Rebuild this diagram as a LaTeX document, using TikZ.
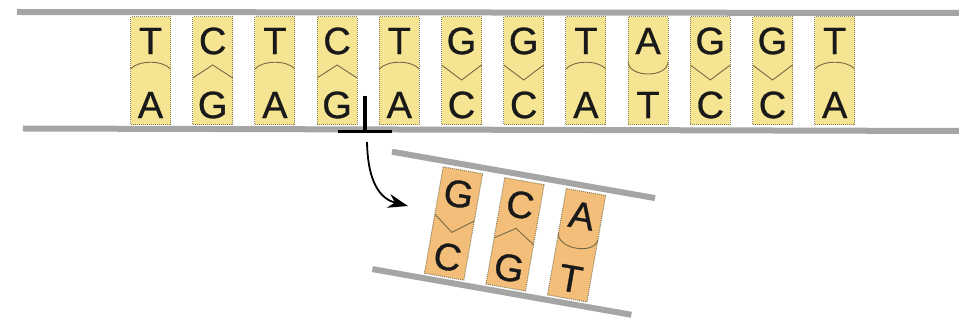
\documentclass[tikz,border=0pt]{standalone}
\usepackage{fontspec}
\setmainfont{Liberation Sans}
\newfontfamily\basefont[FakeBold=0.8]{Liberation Sans}
\usetikzlibrary{arrows.meta}
\definecolor{baseyellow}{RGB}{245,228,145}
\definecolor{baseorange}{RGB}{242,190,122}
\definecolor{strandgray}{RGB}{165,165,165}
\definecolor{boxedge}{RGB}{140,128,92}
\definecolor{jointline}{RGB}{120,105,70}

% joint outlines between paired bases, keyed by the upper base
\def\jointT{(-20,-2) .. controls (-12,-11) and (12,-11) .. (20,-2)}
\def\jointC{(-20,7) -- (0,-6) -- (20,7)}
\def\jointG{(-20,-6) -- (0,9) -- (20,-6)}
\def\jointA{(-20,-9) .. controls (-19,7) and (19,7) .. (20,-9)}

\begin{document}
\begin{tikzpicture}[x=1pt,y=-1pt,
  strand/.style={draw=strandgray,line width=6pt},
  basebox/.style={draw=boxedge,densely dotted,line width=1pt},
  joint/.style={draw=jointline,line width=0.9pt},
  letter/.style={font=\basefont\fontsize{38}{38}\selectfont,inner sep=0pt,text=black!90,transform shape},
  cutmark/.style={line width=3.5pt,line cap=butt},
  pics/pair/.style n args={3}{code={
    \path[fill=#1] (-20,-54) rectangle (20,54);
    \draw[joint] \csname joint#2\endcsname;
    \draw[basebox] (-20,-54) rectangle (20,54);
    \node[letter] (-top) at (0,-30) {#2};
    \node[letter] (-bot) at (0,34) {#3};
  }}
]
\useasboundingbox (0,0) rectangle (959,320);

% long double strand
\draw[strand] (17,12) -- (959,13);
\draw[strand] (23,128.5) -- (959,131);
\foreach \t/\b [count=\i from 0] in {T/A,C/G,T/A,C/G,T/A,G/C,G/C,T/A,A/T,G/C,G/C,T/A}
  \pic (p\i) at ({150.5+62.2*\i},71) {pair={baseyellow}{\t}{\b}};

% cut site and arrow to the released fragment
\coordinate (nick) at (365,131.5);
\draw[cutmark] (338,131.5) -- (392,131.5) (365,96) -- (nick);
\coordinate (arrowstart) at (367,142);
\coordinate (arrowend) at (408,206);
\draw[line width=1.8pt,-{Stealth[length=20pt,width=14pt]}]
  (arrowstart) .. controls (368,190) and (385,200) .. (arrowend);

% released fragment, tilted
\begin{scope}[shift={(453.5,223.5)},rotate=-10]
  \draw[strand] (-73,-60) -- (194,-60);
  \draw[strand] (-72,59) -- (191,59);
  \foreach \t/\b [count=\i from 0] in {G/C,C/G,A/T}
    \pic[transform shape] (m\i) at ({62.5*\i},0) {pair={baseorange}{\t}{\b}};
\end{scope}
\end{tikzpicture}
\end{document}
